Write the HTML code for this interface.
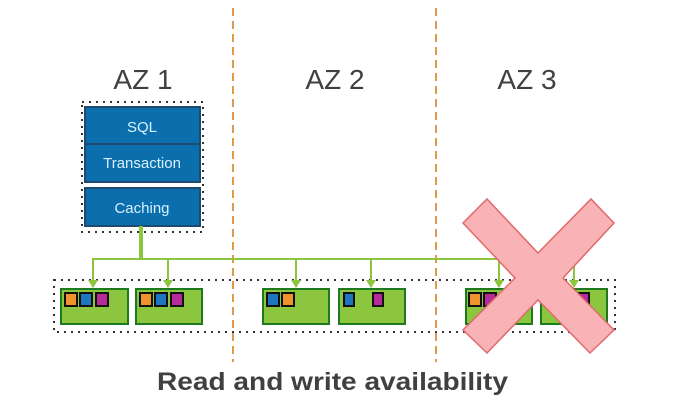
<!DOCTYPE html>
<html><head><meta charset="utf-8"><style>
body{margin:0;background:#fff;}
svg{display:block;font-family:"Liberation Sans",Arial,sans-serif;}
</style></head><body>
<svg width="679" height="410" viewBox="0 0 679 410" xmlns="http://www.w3.org/2000/svg">
<g stroke="#e09a4a" stroke-width="2" stroke-dasharray="8,5">
<line x1="233" y1="8" x2="233" y2="362"/>
<line x1="436" y1="8" x2="436" y2="362"/>
</g>
<g fill="#404040" font-size="28" text-anchor="middle">
<text x="143" y="89">AZ 1</text>
<text x="335" y="89">AZ 2</text>
<text x="527" y="89">AZ 3</text>
</g>
<rect x="82" y="102" width="121" height="130" fill="none" stroke="#333" stroke-width="2" stroke-dasharray="2,5"/>
<rect x="85" y="107" width="115" height="75" fill="#0b6fae" stroke="#1d4a6e" stroke-width="2"/>
<line x1="85" y1="144" x2="200" y2="144" stroke="#1d4a6e" stroke-width="2"/>
<rect x="85" y="188" width="115" height="38" fill="#0b6fae" stroke="#1d4a6e" stroke-width="2"/>
<g fill="#d8f0ff" font-size="15" text-anchor="middle">
<text x="142" y="132">SQL</text>
<text x="142" y="168">Transaction</text>
<text x="142" y="213">Caching</text>
</g>
<rect x="54" y="280" width="561" height="52" fill="none" stroke="#333" stroke-width="2" stroke-dasharray="2,5"/>
<g stroke="#8cc63f" fill="none">
<line x1="141" y1="226" x2="141" y2="259" stroke-width="4"/>
<polyline points="93,287 93,259 574,259 574,287" stroke-width="2"/>
<line x1="168" y1="259" x2="168" y2="287" stroke-width="2"/>
<line x1="296" y1="259" x2="296" y2="287" stroke-width="2"/>
<line x1="371" y1="259" x2="371" y2="287" stroke-width="2"/>
<line x1="499" y1="259" x2="499" y2="287" stroke-width="2"/>
</g>
<g fill="#8cc63f">
<polygon points="88,280 98,280 93,288"/><polygon points="163,280 173,280 168,288"/>
<polygon points="291,280 301,280 296,288"/><polygon points="366,280 376,280 371,288"/>
<polygon points="494,280 504,280 499,288"/><polygon points="569,280 579,280 574,288"/>
</g>
<g fill="#8cc63f" stroke="#1e7a1e" stroke-width="2">
<rect x="61" y="289" width="67" height="35"/><rect x="136" y="289" width="66" height="35"/>
<rect x="263" y="289" width="66" height="35"/><rect x="339" y="289" width="66" height="35"/>
<rect x="466" y="289" width="66" height="35"/><rect x="541" y="289" width="66" height="35"/>
</g>
<g stroke="#111" stroke-width="2">
<rect x="65" y="293" width="12" height="13" fill="#f0922e"/><rect x="80" y="293" width="12" height="13" fill="#1e76c0"/><rect x="96" y="293" width="12" height="13" fill="#b62b9a"/>
<rect x="140" y="293" width="12" height="13" fill="#f0922e"/><rect x="155" y="293" width="12" height="13" fill="#1e76c0"/><rect x="171" y="293" width="12" height="13" fill="#b62b9a"/>
<rect x="267" y="293" width="12" height="13" fill="#1e76c0"/><rect x="282" y="293" width="12" height="13" fill="#f0922e"/>
<rect x="344" y="293" width="10" height="13" fill="#1e76c0"/><rect x="373" y="293" width="10" height="13" fill="#b62b9a"/>
<rect x="469" y="293" width="12" height="13" fill="#f0922e"/><rect x="484" y="293" width="12" height="13" fill="#b62b9a"/>
<rect x="579" y="293" width="10" height="13" fill="#b62b9a"/>
</g>
<polygon points="463,223 487,199 538,253 591,199 614,223 563,278 614,330 590,353 538,300 487,353 463,330 515,278" fill="#f9b3b6" stroke="#e06a6a" stroke-width="1.5"/>
<text x="157" y="390" textLength="351" lengthAdjust="spacingAndGlyphs" font-size="25" font-weight="bold" fill="#404040">Read and write availability</text>
</svg>
</body></html>
